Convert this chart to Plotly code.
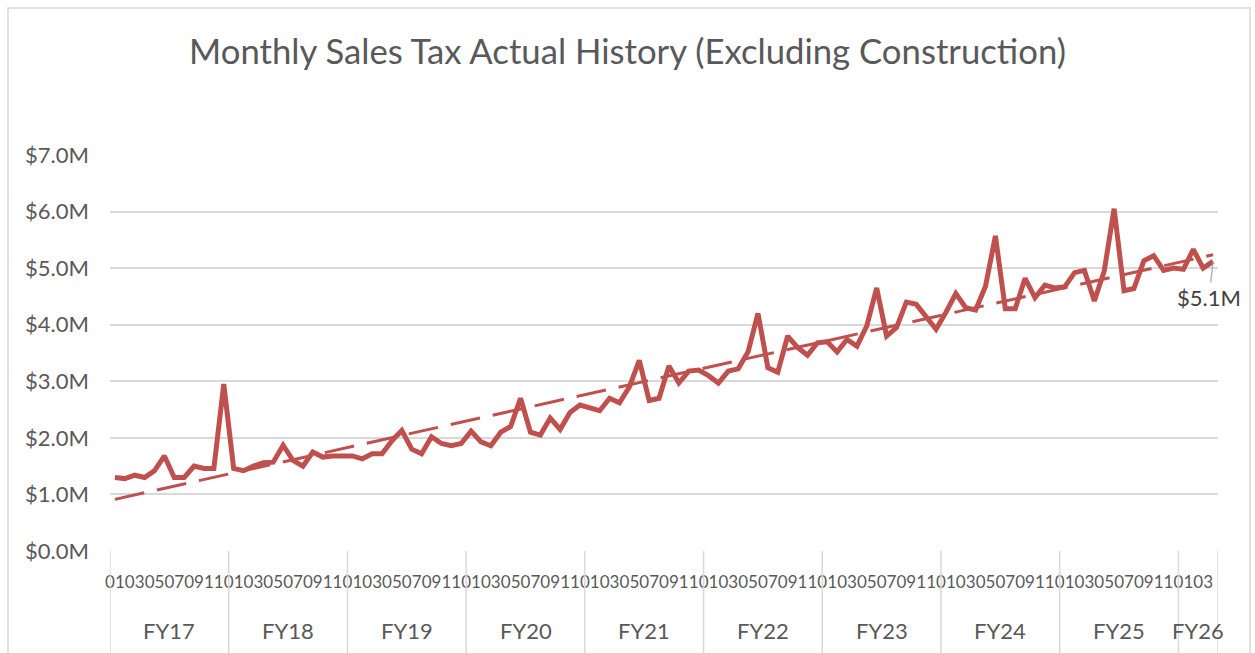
import numpy as np
import plotly.graph_objects as go

# ---------------- data ----------------
fiscal_years = ["FY17", "FY18", "FY19", "FY20", "FY21", "FY22", "FY23", "FY24", "FY25", "FY26"]
month_labels = ["01", "02", "03", "04", "05", "06", "07", "08", "09", "10", "11", "12"]

# monthly sales tax, $ millions
fy17 = [1.30, 1.28, 1.34, 1.30, 1.42, 1.68, 1.30, 1.30, 1.50, 1.46, 1.46, 2.95]
fy18 = [1.46, 1.42, 1.50, 1.56, 1.57, 1.87, 1.60, 1.50, 1.75, 1.66, 1.68, 1.68]
fy19 = [1.68, 1.63, 1.72, 1.72, 1.95, 2.13, 1.80, 1.72, 2.02, 1.90, 1.86, 1.90]
fy20 = [2.12, 1.93, 1.86, 2.10, 2.20, 2.70, 2.10, 2.05, 2.35, 2.15, 2.45, 2.58]
fy21 = [2.52, 2.48, 2.70, 2.62, 2.90, 3.37, 2.66, 2.70, 3.27, 2.97, 3.18, 3.20]
fy22 = [3.10, 2.97, 3.18, 3.22, 3.52, 4.20, 3.24, 3.16, 3.80, 3.60, 3.46, 3.68]
fy23 = [3.70, 3.52, 3.74, 3.62, 3.98, 4.65, 3.80, 3.95, 4.40, 4.36, 4.14, 3.92]
fy24 = [4.22, 4.55, 4.30, 4.26, 4.68, 5.57, 4.28, 4.28, 4.82, 4.48, 4.70, 4.65]
fy25 = [4.67, 4.92, 4.96, 4.42, 4.95, 6.05, 4.60, 4.64, 5.13, 5.22, 4.96, 5.00]
fy26 = [4.98, 5.33, 5.00, 5.12]

series_by_fy = [fy17, fy18, fy19, fy20, fy21, fy22, fy23, fy24, fy25, fy26]

y_ticks = [0, 1, 2, 3, 4, 5, 6, 7]
y_tick_labels = ["$0.0M", "$1.0M", "$2.0M", "$3.0M", "$4.0M", "$5.0M", "$6.0M", "$7.0M"]

# ---------------- derived ----------------
values = [v for fy in series_by_fy for v in fy]
months = [month_labels[j] for fy in series_by_fy for j in range(len(fy))]
idx = np.arange(len(values))

slope, intercept = np.polyfit(idx, values, 1)   # linear trendline (like Excel)
trend = slope * idx + intercept

tickvals = [int(i) for i in idx if int(months[i]) % 2 == 1]
ticktext = [months[i] for i in tickvals]

# group boundaries
lengths = [len(fy) for fy in series_by_fy]
starts = np.concatenate([[0], np.cumsum(lengths)[:-1]])
ends = np.cumsum(lengths)

RED = "#C0504D"
TXT = "#595959"
GRID = "#D9D9D9"
FONT = "Lato"

W, H = 1255, 653
ML, MR, MT, MB = 110, 37, 155, 102
PW, PH = W - ML - MR, H - MT - MB


def px_x(p):
    return (p - ML) / PW


def px_y(p):
    return (H - MB - p) / PH


fig = go.Figure()
fig.add_trace(go.Scatter(
    x=idx, y=trend, mode="lines",
    line=dict(color=RED, width=3, dash="30px,13px"),
    hoverinfo="skip", showlegend=False,
))
fig.add_trace(go.Scatter(
    x=idx, y=values, mode="lines",
    line=dict(color=RED, width=5),
    showlegend=False,
))

shapes = []
# vertical dividers of the category groups
for b in list(starts - 0.5) + [ends[-1] - 0.5]:
    shapes.append(dict(type="line", xref="x", yref="paper",
                       x0=b, x1=b, y0=0, y1=px_y(H + 5),
                       line=dict(color=GRID, width=1.5)))
# chart-area border
shapes.append(dict(type="rect", xref="paper", yref="paper",
                   x0=px_x(8), x1=px_x(1250), y0=px_y(H + 10), y1=px_y(8),
                   line=dict(color=GRID, width=1.5), fillcolor="rgba(0,0,0,0)"))

annotations = []
for name, s, e in zip(fiscal_years, starts, ends):
    annotations.append(dict(x=(s + e - 1) / 2, y=px_y(630), xref="x", yref="paper",
                            text=name, showarrow=False, yanchor="middle",
                            font=dict(family=FONT, size=22, color=TXT)))
# data label on last point
last = values[-1]
annotations.append(dict(x=idx[-1], y=last, xref="x", yref="y",
                        text=f"${last:.1f}M", showarrow=True, arrowhead=0,
                        arrowwidth=1.2, arrowcolor="#A6A6A6", ax=-4, ay=36,
                        font=dict(family=FONT, size=22, color="#404040")))

fig.update_layout(
    width=W, height=H,
    margin=dict(l=ML, r=MR, t=MT, b=MB, autoexpand=False),
    paper_bgcolor="white", plot_bgcolor="white",
    title=dict(text="Monthly Sales Tax Actual History (Excluding Construction)",
               x=0.5, xref="container", xanchor="center",
               y=1 - 52 / H, yref="container", yanchor="middle",
               font=dict(family=FONT, size=34.7, color=TXT)),
    xaxis=dict(range=[-0.5, len(values) - 0.5], tickmode="array",
               tickvals=tickvals, ticktext=ticktext, tickangle=0,
               showgrid=False, zeroline=False, showline=False, ticks="",
               ticklabelstandoff=19,
               tickfont=dict(family=FONT, size=17, color=TXT)),
    yaxis=dict(range=[0, 7], tickmode="array", tickvals=y_ticks,
               ticktext=y_tick_labels, showgrid=True, gridcolor=GRID, gridwidth=1.5,
               zeroline=False, showline=False, ticks="",
               ticklabelstandoff=20,
               tickfont=dict(family=FONT, size=22, color=TXT)),
    shapes=shapes, annotations=annotations,
    showlegend=False,
)

fig.write_html("out.html", config={"displayModeBar": False},
               post_script="document.body.style.margin='0';")
